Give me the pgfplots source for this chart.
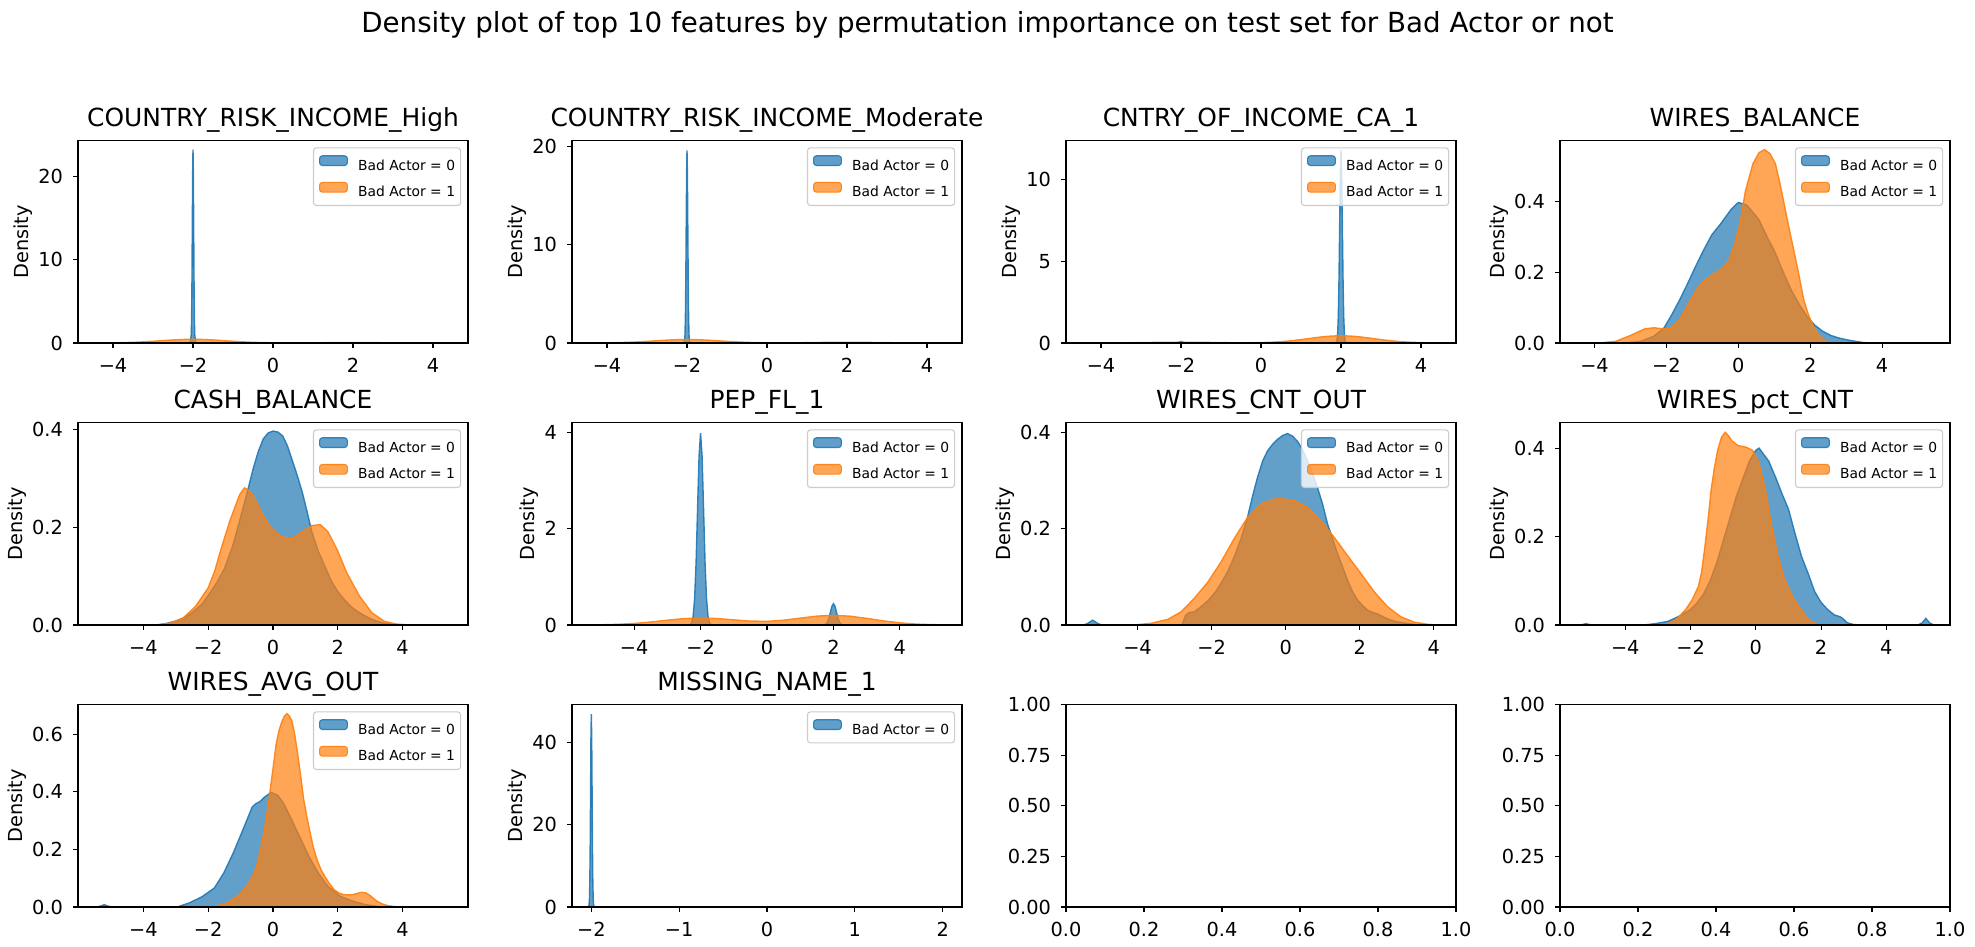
\documentclass[border=0pt]{standalone}
\usepackage{pgfplots}
\pgfplotsset{compat=1.18}
\usepackage{fontspec}
\setmainfont{DejaVu Sans}
\definecolor{cblue}{HTML}{1F77B4}
\definecolor{corange}{HTML}{FF7F0E}
\definecolor{legedge}{HTML}{CCCCCC}
\newcommand\tickfont{\fontsize{19.4}{23}\selectfont}
\newcommand\titfont{\fontsize{25}{30}\selectfont}
\newcommand\legfont{\fontsize{13.9}{16.7}\selectfont}
\newcommand\supfont{\fontsize{27.8}{33}\selectfont}
\pgfplotsset{
  kde/.style={
    scale only axis, width=390bp, height=202.5bp, anchor=south west,
    axis on top,
    axis line style={line width=1.1bp},
    tick align=outside, major tick length=4.86bp,
    every tick/.style={black, line width=1.1bp},
    xtick pos=bottom, ytick pos=left,
    ymin=0,
    tick label style={font=\tickfont},
    xticklabel style={anchor=north, inner sep=0bp, yshift=-10.5bp},
    yticklabel style={anchor=east, inner sep=0bp, xshift=-10bp},
    ylabel={Density},
    ylabel style={font=\tickfont, inner sep=0bp, at={(ticklabel cs:0.5,5.6bp)}},
    title style={font=\titfont, at={(0.5,1)}, anchor=base, yshift=8.33bp, inner sep=0bp},
    legend style={at={(1,1)}, anchor=north east, xshift=-6.9bp, yshift=-6.9bp,
      draw=legedge, line width=1.1bp, rounded corners=2.8bp,
      fill=white, fill opacity=0.8, draw opacity=1, text opacity=1,
      font=\legfont, inner xsep=5.5bp, inner ysep=7.3bp,
      row sep=10.4bp, column sep=10.3bp, nodes={inner sep=0bp}},
    legend cell align=left,
    legend image code/.code={\draw[#1, line width=1.1bp] (0bp,0bp) rectangle (27.8bp,9.7bp);},
  },
  b0/.style={draw=cblue, fill=cblue, fill opacity=0.7, draw opacity=0.9, line width=1.4bp},
  b1/.style={draw=corange, fill=corange, fill opacity=0.7, draw opacity=0.9, line width=1.4bp},
  rowone/.style={xmin=-4.875, xmax=4.875, xtick={-4,-2,0,2,4}, xticklabels={−4,−2,0,2,4}},
}
\begin{document}
\begin{tikzpicture}
\path[use as bounding box] (0bp,0bp) rectangle (1975bp,947bp);
\node[anchor=base, font=\supfont, inner sep=0bp] at (987.5bp,914.7bp) {Density plot of top 10 features by permutation importance on test set for Bad Actor or not};

% ---------- Row 1 ----------
\begin{axis}[kde, rowone, at={(78bp,604bp)}, ymax=24.3, ytick={0,10,20}, yticklabels={0,10,20},
  title={COUNTRY\_RISK\_INCOME\_High}]
\addplot[b0] coordinates {(-2.07,0) (-2.043,1.02) (-2.0344,3.14) (-2.0258,7.53) (-2.0172,14.07) (-2.0086,20.47) (-2,23.2) (-1.9914,20.47) (-1.9828,14.07) (-1.9742,7.53) (-1.9656,3.14) (-1.957,1.02) (-1.93,0)} \closedcycle;
\addlegendentry{Bad Actor = 0}
\addplot[b1] coordinates {(-4.43,0.0049) (-4.25,0.0094) (-4,0.0212) (-3.75,0.0430) (-3.5,0.0797) (-3.25,0.1350) (-3,0.2066) (-2.75,0.2888) (-2.5,0.3666) (-2.25,0.4226) (-2,0.4433) (-1.75,0.4226) (-1.5,0.3666) (-1.25,0.2888) (-1,0.2066) (-0.75,0.1352) (-0.5,0.0801) (-0.25,0.0440) (0,0.0236) (0.25,0.0142) (0.5,0.0126) (0.75,0.0164) (1,0.0235) (1.25,0.0321) (1.5,0.0407) (1.75,0.0470) (2,0.0493) (2.25,0.0470) (2.5,0.0407) (2.75,0.0321) (3,0.0230) (3.25,0.0150) (3.5,0.0089) (3.75,0.0048) (4,0.0024) (4.25,0.0010) (4.43,0.0005)} \closedcycle;
\addlegendentry{Bad Actor = 1}
\end{axis}

\begin{axis}[kde, rowone, at={(572bp,604bp)}, ymax=20.6, ytick={0,10,20}, yticklabels={0,10,20},
  title={COUNTRY\_RISK\_INCOME\_Moderate}]
\addplot[b0] coordinates {(-2.08,0) (-2.06,0.22) (-2.05,0.86) (-2.04,2.65) (-2.03,6.36) (-2.02,11.89) (-2.01,17.3) (-2,19.6) (-1.99,17.3) (-1.98,11.89) (-1.97,6.36) (-1.96,2.65) (-1.95,0.86) (-1.94,0.22) (-1.92,0)} \closedcycle;
\addlegendentry{Bad Actor = 0}
\addplot[b1] coordinates {(-4.43,0.0039) (-4.25,0.0075) (-4,0.0169) (-3.75,0.0344) (-3.5,0.0638) (-3.25,0.1080) (-3,0.1652) (-2.75,0.2310) (-2.5,0.2933) (-2.25,0.3380) (-2,0.3546) (-1.75,0.3380) (-1.5,0.2933) (-1.25,0.2310) (-1,0.1652) (-0.75,0.1080) (-0.5,0.0644) (-0.25,0.0360) (0,0.0204) (0.25,0.0147) (0.5,0.0163) (0.75,0.0236) (1,0.0344) (1.25,0.0481) (1.5,0.0611) (1.75,0.0704) (2,0.0739) (2.25,0.0704) (2.5,0.0611) (2.75,0.0481) (3,0.0344) (3.25,0.0225) (3.5,0.0133) (3.75,0.0072) (4,0.0035) (4.25,0.0016) (4.43,0.0008)} \closedcycle;
\addlegendentry{Bad Actor = 1}
\end{axis}

\begin{axis}[kde, rowone, at={(1066bp,604bp)}, ymax=12.38, ytick={0,5,10}, yticklabels={0,5,10},
  title={CNTRY\_OF\_INCOME\_CA\_1}]
\addplot[b0] coordinates {(-2.136,0) (-2.068,0.014) (-2.034,0.061) (-2,0.1) (-1.966,0.061) (-1.932,0.014) (-1.864,0) (1.864,0) (1.898,0.13) (1.915,0.52) (1.932,1.60) (1.949,3.83) (1.966,7.15) (1.983,10.40) (2,11.79) (2.017,10.40) (2.034,7.15) (2.051,3.83) (2.068,1.60) (2.085,0.52) (2.102,0.13) (2.136,0)} \closedcycle;
\addlegendentry{Bad Actor = 0}
\addplot[b1] coordinates {(-4.43,0.0005) (-4.25,0.0010) (-4,0.0024) (-3.75,0.0048) (-3.5,0.0089) (-3.25,0.0150) (-3,0.0230) (-2.75,0.0321) (-2.5,0.0407) (-2.25,0.0470) (-2,0.0493) (-1.75,0.0470) (-1.5,0.0407) (-1.25,0.0321) (-1,0.0235) (-0.75,0.0164) (-0.5,0.0126) (-0.25,0.0142) (0,0.0236) (0.25,0.0440) (0.5,0.0801) (0.75,0.1352) (1,0.2066) (1.25,0.2888) (1.5,0.3666) (1.75,0.4226) (2,0.4433) (2.25,0.4226) (2.5,0.3666) (2.75,0.2888) (3,0.2066) (3.25,0.1350) (3.5,0.0797) (3.75,0.0430) (4,0.0212) (4.25,0.0094) (4.43,0.0049)} \closedcycle;
\addlegendentry{Bad Actor = 1}
\end{axis}

\begin{axis}[kde, at={(1560bp,604bp)}, xmin=-4.96, xmax=5.89, xtick={-4,-2,0,2,4}, xticklabels={−4,−2,0,2,4},
  ymax=0.572, ytick={0,0.2,0.4}, yticklabels={0.0,0.2,0.4}, title={WIRES\_BALANCE}]
\addplot[b0] coordinates {(-3.1,0) (-2.7,0.005) (-2.35,0.019) (-2.07,0.042) (-1.85,0.08) (-1.63,0.122) (-1.4,0.17) (-1.19,0.216) (-0.95,0.265) (-0.74,0.305) (-0.48,0.338) (-0.21,0.376) (0,0.397) (0.23,0.39) (0.4,0.37) (0.58,0.347) (0.8,0.3) (1.03,0.254) (1.25,0.2) (1.47,0.15) (1.7,0.108) (1.91,0.075) (2.13,0.05) (2.35,0.033) (2.58,0.021) (2.8,0.014) (3.02,0.009) (3.24,0.005) (3.5,0.001) (3.8,0)} \closedcycle;
\addlegendentry{Bad Actor = 0}
\addplot[b1] coordinates {(-3.85,0) (-3.4,0.005) (-2.96,0.023) (-2.6,0.04) (-2.34,0.043) (-2.1,0.04) (-1.9,0.042) (-1.63,0.066) (-1.45,0.1) (-1.27,0.131) (-1.1,0.16) (-0.92,0.178) (-0.75,0.19) (-0.57,0.202) (-0.4,0.215) (-0.25,0.235) (-0.1,0.28) (0.05,0.34) (0.2,0.43) (0.41,0.507) (0.58,0.538) (0.73,0.546) (0.88,0.535) (1.03,0.507) (1.16,0.45) (1.29,0.385) (1.42,0.32) (1.56,0.254) (1.69,0.19) (1.82,0.122) (1.95,0.08) (2.09,0.047) (2.22,0.025) (2.35,0.009) (2.5,0.003) (2.65,0)} \closedcycle;
\addlegendentry{Bad Actor = 1}
\end{axis}

% ---------- Row 2 ----------
\begin{axis}[kde, at={(78bp,322bp)}, xmin=-6.02, xmax=6.02, xtick={-4,-2,0,2,4}, xticklabels={−4,−2,0,2,4},
  ymax=0.4135, ytick={0,0.2,0.4}, yticklabels={0.0,0.2,0.4}, title={CASH\_BALANCE}]
\addplot[b0] coordinates {(-3.6,0) (-3.3,0.003) (-3,0.008) (-2.7,0.016) (-2.5,0.025) (-2.2,0.042) (-2,0.06) (-1.75,0.085) (-1.5,0.115) (-1.25,0.16) (-1,0.22) (-0.8,0.27) (-0.6,0.322) (-0.45,0.355) (-0.3,0.38) (-0.15,0.392) (0,0.396) (0.15,0.394) (0.3,0.386) (0.45,0.365) (0.6,0.335) (0.75,0.305) (0.9,0.272) (1.05,0.232) (1.2,0.19) (1.4,0.15) (1.6,0.12) (1.8,0.09) (2.0,0.068) (2.2,0.052) (2.4,0.038) (2.6,0.028) (2.8,0.02) (3.0,0.013) (3.2,0.008) (3.4,0.004) (3.7,0.001) (4.0,0)} \closedcycle;
\addlegendentry{Bad Actor = 0}
\addplot[b1] coordinates {(-3.56,0) (-3.17,0.004) (-2.78,0.014) (-2.39,0.038) (-2.0,0.076) (-1.8,0.11) (-1.61,0.154) (-1.32,0.215) (-1.03,0.266) (-0.88,0.28) (-0.75,0.275) (-0.64,0.266) (-0.5,0.25) (-0.35,0.229) (-0.2,0.212) (-0.06,0.198) (0.23,0.181) (0.54,0.176) (0.72,0.182) (0.91,0.191) (1.21,0.203) (1.46,0.205) (1.69,0.191) (1.98,0.154) (2.28,0.106) (2.67,0.059) (3.05,0.025) (3.44,0.0075) (3.8,0.002) (4.2,0)} \closedcycle;
\addlegendentry{Bad Actor = 1}
\end{axis}

\begin{axis}[kde, at={(572bp,322bp)}, xmin=-5.87, xmax=5.87, xtick={-4,-2,0,2,4}, xticklabels={−4,−2,0,2,4},
  ymax=4.21, ytick={0,2,4}, yticklabels={0,2,4}, title={PEP\_FL\_1}]
\addplot[b0] coordinates {(-2.32,0) (-2.27,0.044) (-2.225,0.175) (-2.18,0.54) (-2.135,1.295) (-2.09,2.42) (-2.045,3.52) (-2,3.99) (-1.955,3.52) (-1.91,2.42) (-1.865,1.295) (-1.82,0.54) (-1.775,0.175) (-1.73,0.044) (-1.68,0) (1.68,0) (1.73,0.005) (1.775,0.019) (1.82,0.060) (1.865,0.144) (1.91,0.269) (1.955,0.391) (2,0.443) (2.045,0.391) (2.09,0.269) (2.135,0.144) (2.18,0.060) (2.225,0.019) (2.27,0.005) (2.32,0)} \closedcycle;
\addlegendentry{Bad Actor = 0}
\addplot[b1] coordinates {(-5.45,0.0016) (-5,0.0050) (-4.5,0.0137) (-4,0.0321) (-3.5,0.0623) (-3,0.0998) (-2.5,0.1326) (-2,0.1460) (-1.5,0.1346) (-1,0.1065) (-0.5,0.0812) (0,0.0764) (0.5,0.0997) (1,0.1426) (1.5,0.1846) (2,0.2016) (2.5,0.1831) (3,0.1378) (3.5,0.0860) (4,0.0443) (4.5,0.0189) (5,0.0067) (5.45,0.0022)} \closedcycle;
\addlegendentry{Bad Actor = 1}
\end{axis}

\begin{axis}[kde, at={(1066bp,322bp)}, xmin=-5.93, xmax=4.6, xtick={-4,-2,0,2,4}, xticklabels={−4,−2,0,2,4},
  ymax=0.42, ytick={0,0.2,0.4}, yticklabels={0.0,0.2,0.4}, title={WIRES\_CNT\_OUT}]
\addplot[b0] coordinates {(-5.45,0) (-5.35,0.003) (-5.21,0.01) (-5.07,0.003) (-4.97,0) (-2.8,0) (-2.7,0.02) (-2.6,0.026) (-2.47,0.027) (-2.3,0.037) (-2.1,0.05) (-1.9,0.068) (-1.75,0.086) (-1.57,0.11) (-1.39,0.141) (-1.2,0.18) (-1.03,0.223) (-0.9,0.265) (-0.76,0.306) (-0.62,0.34) (-0.49,0.361) (-0.35,0.375) (-0.22,0.385) (-0.08,0.393) (0.05,0.397) (0.18,0.392) (0.32,0.381) (0.45,0.364) (0.59,0.34) (0.72,0.315) (0.86,0.285) (1.0,0.25) (1.13,0.21) (1.27,0.178) (1.4,0.148) (1.54,0.12) (1.67,0.093) (1.8,0.07) (1.94,0.052) (2.08,0.04) (2.21,0.031) (2.35,0.026) (2.48,0.023) (2.66,0.016) (2.84,0.01) (3.05,0.006) (3.29,0.003) (3.65,0)} \closedcycle;
\addlegendentry{Bad Actor = 0}
\addplot[b1] coordinates {(-4.1,0) (-3.64,0.0034) (-3.18,0.0117) (-2.82,0.0275) (-2.47,0.055) (-2.1,0.089) (-1.75,0.13) (-1.39,0.179) (-1.03,0.223) (-0.67,0.251) (-0.31,0.261) (-0.13,0.262) (0.23,0.258) (0.59,0.244) (0.95,0.216) (1.31,0.182) (1.67,0.144) (2.03,0.107) (2.39,0.069) (2.75,0.038) (3.11,0.017) (3.47,0.006) (3.83,0.0014) (4.1,0)} \closedcycle;
\addlegendentry{Bad Actor = 1}
\end{axis}

\begin{axis}[kde, at={(1560bp,322bp)}, xmin=-6.0, xmax=5.95, xtick={-4,-2,0,2,4}, xticklabels={−4,−2,0,2,4},
  ymax=0.458, ytick={0,0.2,0.4}, yticklabels={0.0,0.2,0.4}, title={WIRES\_pct\_CNT}]
\addplot[b0] coordinates {(-5.45,0) (-5.3,0.001) (-5.21,0.003) (-5.1,0.001) (-4.97,0) (-3.5,0) (-3.3,0.001) (-3.0,0.004) (-2.7,0.008) (-2.4,0.018) (-2.2,0.026) (-2.0,0.035) (-1.8,0.05) (-1.6,0.07) (-1.4,0.1) (-1.2,0.14) (-1.0,0.19) (-0.8,0.24) (-0.6,0.29) (-0.4,0.33) (-0.2,0.37) (0,0.395) (0.1,0.4) (0.2,0.39) (0.3,0.38) (0.4,0.37) (0.5,0.352) (0.6,0.335) (0.8,0.297) (1.0,0.262) (1.2,0.207) (1.4,0.155) (1.6,0.117) (1.8,0.076) (2.0,0.051) (2.2,0.035) (2.4,0.023) (2.6,0.018) (2.7,0.012) (2.8,0.005) (3.0,0.001) (3.2,0) (4.97,0) (5.1,0.005) (5.21,0.015) (5.32,0.005) (5.45,0)} \closedcycle;
\addlegendentry{Bad Actor = 0}
\addplot[b1] coordinates {(-3.12,0) (-2.73,0.002) (-2.44,0.012) (-2.15,0.035) (-1.95,0.057) (-1.76,0.087) (-1.66,0.12) (-1.56,0.177) (-1.46,0.24) (-1.37,0.305) (-1.27,0.355) (-1.17,0.395) (-1.05,0.425) (-0.94,0.436) (-0.84,0.428) (-0.74,0.417) (-0.55,0.406) (-0.29,0.402) (-0.1,0.395) (0.1,0.365) (0.29,0.305) (0.49,0.222) (0.68,0.155) (0.88,0.102) (1.17,0.057) (1.46,0.027) (1.66,0.008) (1.95,0.001) (2.1,0)} \closedcycle;
\addlegendentry{Bad Actor = 1}
\end{axis}

% ---------- Row 3 ----------
\begin{axis}[kde, at={(78bp,40bp)}, xmin=-6.02, xmax=6.02, xtick={-4,-2,0,2,4}, xticklabels={−4,−2,0,2,4},
  ymax=0.704, ytick={0,0.2,0.4,0.6}, yticklabels={0.0,0.2,0.4,0.6}, title={WIRES\_AVG\_OUT}]
\addplot[b0] coordinates {(-5.45,0) (-5.33,0.003) (-5.21,0.008) (-5.09,0.003) (-4.97,0) (-2.95,0) (-2.88,0.003) (-2.59,0.014) (-2.2,0.035) (-1.81,0.066) (-1.52,0.118) (-1.23,0.187) (-0.93,0.268) (-0.64,0.348) (-0.52,0.36) (-0.41,0.366) (-0.25,0.383) (-0.06,0.398) (0.14,0.389) (0.33,0.36) (0.53,0.314) (0.82,0.245) (1.11,0.175) (1.4,0.118) (1.69,0.072) (2.08,0.037) (2.47,0.02) (2.86,0.008) (3.25,0.002) (3.64,0)} \closedcycle;
\addlegendentry{Bad Actor = 0}
\addplot[b1] coordinates {(-1.9,0) (-1.71,0.004) (-1.42,0.014) (-1.03,0.043) (-0.74,0.083) (-0.54,0.129) (-0.4,0.19) (-0.25,0.279) (-0.1,0.395) (0.0,0.48) (0.1,0.568) (0.19,0.615) (0.27,0.643) (0.35,0.663) (0.43,0.672) (0.5,0.665) (0.58,0.648) (0.67,0.6) (0.76,0.533) (0.86,0.45) (0.95,0.372) (1.05,0.31) (1.15,0.256) (1.25,0.205) (1.36,0.164) (1.48,0.13) (1.6,0.106) (1.75,0.08) (1.89,0.06) (2.04,0.048) (2.18,0.043) (2.33,0.042) (2.47,0.043) (2.62,0.048) (2.76,0.051) (2.86,0.049) (2.96,0.043) (3.08,0.032) (3.21,0.02) (3.38,0.01) (3.54,0.005) (3.83,0)} \closedcycle;
\addlegendentry{Bad Actor = 1}
\end{axis}

\begin{axis}[kde, at={(572bp,40bp)}, xmin=-2.22, xmax=2.22, xtick={-2,-1,0,1,2}, xticklabels={−2,−1,0,1,2},
  ymax=49.3, ytick={0,20,40}, yticklabels={0,20,40}, title={MISSING\_NAME\_1}]
\addplot[b0] coordinates {(-2.034,0) (-2.0255,0.52) (-2.02125,2.06) (-2.017,6.35) (-2.01275,15.24) (-2.0085,28.48) (-2.00425,41.43) (-2,46.95) (-1.99575,41.43) (-1.9915,28.48) (-1.98725,15.24) (-1.983,6.35) (-1.97875,2.06) (-1.9745,0.52) (-1.966,0)} \closedcycle;
\addlegendentry{Bad Actor = 0}
\end{axis}

\begin{axis}[kde, at={(1066bp,40bp)}, xmin=0, xmax=1, ymin=0, ymax=1, ylabel={},
  xtick={0,0.2,0.4,0.6,0.8,1}, xticklabels={0.0,0.2,0.4,0.6,0.8,1.0},
  ytick={0,0.25,0.5,0.75,1}, yticklabels={0.00,0.25,0.50,0.75,1.00}]
\end{axis}

\begin{axis}[kde, at={(1560bp,40bp)}, xmin=0, xmax=1, ymin=0, ymax=1, ylabel={},
  xtick={0,0.2,0.4,0.6,0.8,1}, xticklabels={0.0,0.2,0.4,0.6,0.8,1.0},
  ytick={0,0.25,0.5,0.75,1}, yticklabels={0.00,0.25,0.50,0.75,1.00}]
\end{axis}
\end{tikzpicture}
\end{document}
